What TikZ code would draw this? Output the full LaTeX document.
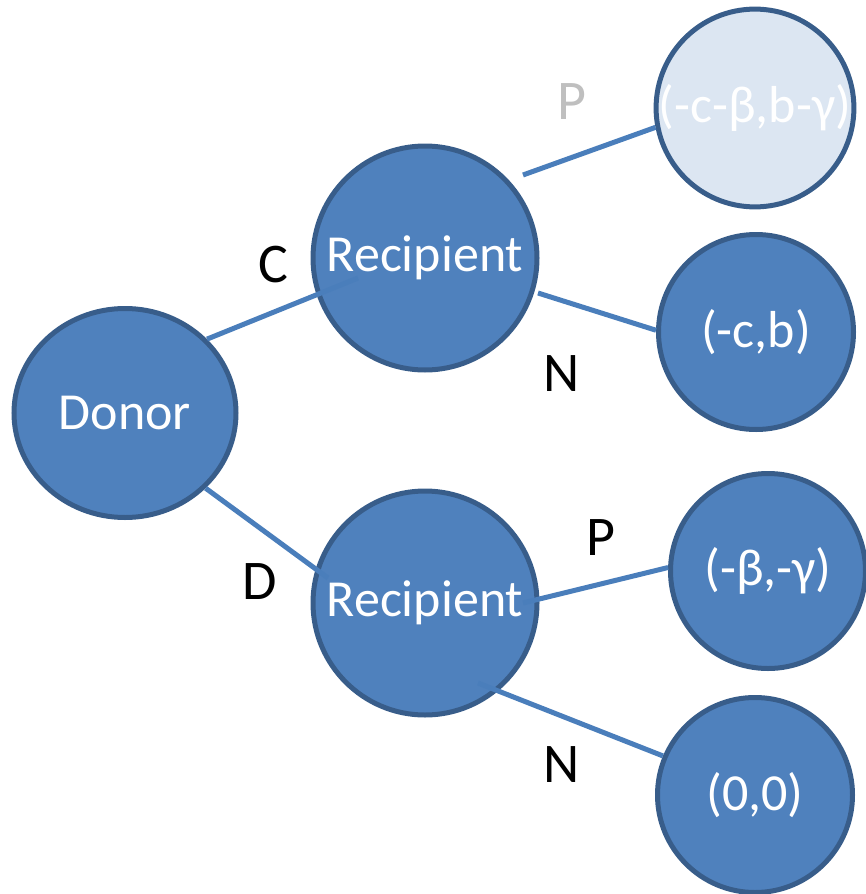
\documentclass[tikz,border=0pt]{standalone}
\usepackage{fontspec}
\setmainfont{Carlito}
\usetikzlibrary{shapes.geometric,calc}
\definecolor{nodefill}{HTML}{4F81BD}
\definecolor{nodeline}{HTML}{385D8A}
\definecolor{edgeblue}{HTML}{4A7EBB}
\definecolor{palefill}{HTML}{DCE6F2}
\definecolor{labelgray}{HTML}{BFBFBF}
\begin{document}
\begin{tikzpicture}[x=1pt,y=-1pt,
  state/.style={circle,draw=nodeline,fill=nodefill,line width=5pt,inner sep=0pt,
    text=white,font=\fontsize{52}{60}\selectfont},
  big/.style={state,minimum size=224pt},
  leaf/.style={state,minimum size=195pt},
  move/.style={inner sep=0pt,font=\fontsize{56}{64}\selectfont},
  branch/.style={draw=edgeblue,line width=5pt}]
\useasboundingbox (0,0) rectangle (865,894);

% game tree nodes
\node[state,ellipse,minimum width=222pt,minimum height=209pt] (donor) at (125,413) {Donor};
\node[big] (recC) at (425,258) {Recipient};
\node[big] (recD) at (425,603) {Recipient};
\node[leaf,fill=palefill] (cp) at (755,108) {(-c-β,b-γ)};
\node[leaf] (cn) at (756,332) {(-c,b)};
\node[leaf] (dp) at (768,571) {(-β,-γ)};
\node[leaf] (dn) at (755,795) {(0,0)};

% branches
\draw[branch] (donor.42) -- ($(recC)+(-67,20)$);
\draw[branch] (donor.-43) -- ($(recD)+(-97,-25)$);
\draw[branch] ($(recC)+(98,-83)$) -- (cp.191);
\draw[branch] ($(recC)+(113,35)$) -- (cn.179);
\draw[branch] ($(recD)+(98,0)$) -- (dp.178);
\draw[branch] ($(recD)+(53,80)$) -- (dn.157);

% move labels
\node[move] (lc) at (273,265) {C};
\node[move] (ld) at (260,582) {D};
\node[move,text=labelgray] (lcp) at (572,102) {P};
\node[move] (lcn) at (562,374) {N};
\node[move] (ldp) at (601,538) {P};
\node[move] (ldn) at (562,765) {N};
\end{tikzpicture}
\end{document}
